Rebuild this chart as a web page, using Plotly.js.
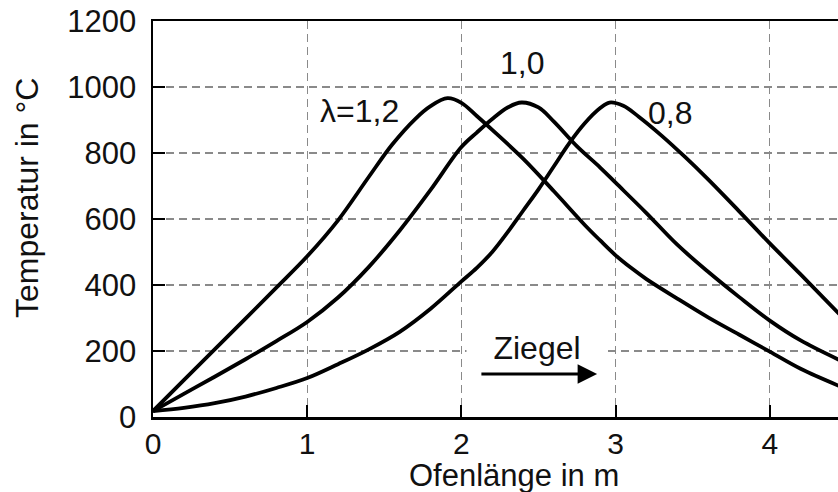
<!DOCTYPE html>
<html>
<head>
<meta charset="utf-8">
<script src="https://cdn.plot.ly/plotly-3.0.1.min.js"></script>
<style>html,body{margin:0;padding:0;background:#fff;}#chart{width:838px;height:492px;}</style>
</head>
<body>
<div id="chart"></div>
<script>
// Ofenlänge in m (x) and Temperatur in °C (y) for each air ratio λ
const x12 = [0, 0.2, 0.4, 0.6, 0.8, 1.0, 1.2, 1.4, 1.55, 1.7, 1.8, 1.91, 2.0, 2.1, 2.2, 2.4, 2.6, 2.8, 2.9, 3.0, 3.1, 3.2, 3.4, 3.6, 3.8, 4.0, 4.2, 4.45];
const y12 = [18, 112, 205, 298, 392, 487, 596, 728, 825, 903, 942, 966, 952, 912, 870, 783, 684, 582, 535, 490, 452, 418, 359, 302, 250, 198, 146, 94];

const x10 = [0, 0.2, 0.4, 0.6, 0.8, 1.0, 1.2, 1.4, 1.6, 1.8, 2.0, 2.1, 2.2, 2.3, 2.39, 2.5, 2.6, 2.75, 2.9, 3.0, 3.2, 3.4, 3.6, 3.8, 4.0, 4.2, 4.45];
const y10 = [18, 70, 122, 175, 230, 288, 362, 455, 565, 688, 818, 862, 903, 938, 953, 938, 895, 820, 756, 710, 618, 522, 440, 364, 292, 232, 173];

const x08 = [0, 0.2, 0.4, 0.6, 0.8, 1.0, 1.2, 1.4, 1.6, 1.8, 2.0, 2.1, 2.2, 2.3, 2.4, 2.5, 2.6, 2.7, 2.8, 2.9, 2.96, 3.05, 3.15, 3.3, 3.45, 3.6, 3.8, 4.0, 4.2, 4.45];
const y08 = [18, 28, 42, 62, 88, 118, 160, 205, 258, 328, 411, 452, 500, 560, 625, 690, 760, 830, 890, 936, 953, 943, 910, 852, 788, 720, 624, 526, 432, 312];

const xTicks = [0, 1, 2, 3, 4];
const yTicks = [0, 200, 400, 600, 800, 1000, 1200];
const curveLabels = ["λ=1,2", "1,0", "0,8"];
const labelX = [1.342, 2.393, 3.353];
const labelY = [928, 1074, 922];
const xTitle = "Ofenlänge in m";
const yTitle = "Temperatur in °C";
const arrowText = "Ziegel";

const FONT = "Liberation Sans, Arial, Helvetica, sans-serif";
const lineStyle = {color: "#000", width: 3.8, shape: "spline", smoothing: 1};

const traces = [
  {x: x12, y: y12, name: curveLabels[0], mode: "lines", line: lineStyle, hoverinfo: "x+y"},
  {x: x10, y: y10, name: curveLabels[1], mode: "lines", line: lineStyle, hoverinfo: "x+y"},
  {x: x08, y: y08, name: curveLabels[2], mode: "lines", line: lineStyle, hoverinfo: "x+y"}
];

const W = 838, H = 492, M = {l: 153, r: 0, t: 21, b: 75};
const pw = W - M.l - M.r, ph = H - M.t - M.b;

const annotations = curveLabels.map((t, i) => ({
  x: labelX[i], y: labelY[i], xref: "x", yref: "y", text: t, showarrow: false,
  xanchor: "center", yanchor: "middle", font: {family: FONT, size: 32, color: "#111"}
}));

// "Ziegel" label with white box (interrupts the 200 grid line)
annotations.push({
  x: 2.49, y: 210, xref: "x", yref: "y", text: arrowText, showarrow: false,
  xanchor: "center", yanchor: "middle", bgcolor: "#fff", width: 138, height: 36,
  font: {family: FONT, size: 32, color: "#111"}
});
// direction arrow
annotations.push({
  x: 2.88, y: 130, ax: 2.12, ay: 130, xref: "x", yref: "y", axref: "x", ayref: "y",
  text: "", showarrow: true, arrowhead: 2, arrowsize: 1.3, arrowwidth: 3, arrowcolor: "#000"
});
// axis titles
annotations.push({
  x: (514 - M.l) / pw, y: (H - M.b - 475) / ph, xref: "paper", yref: "paper",
  text: xTitle, showarrow: false, xanchor: "center", yanchor: "middle",
  font: {family: FONT, size: 31, color: "#111"}
});
annotations.push({
  x: (27 - M.l) / pw, y: (H - M.b - 198) / ph, xref: "paper", yref: "paper",
  text: yTitle, showarrow: false, textangle: -90, xanchor: "center", yanchor: "middle",
  font: {family: FONT, size: 32, color: "#111"}
});

const axisCommon = {
  showline: true, linecolor: "#000", linewidth: 2.5,
  ticks: "inside", ticklen: 12, tickwidth: 2, tickcolor: "#000",
  showgrid: true, gridcolor: "#8a8a8a", gridwidth: 1.3, griddash: "8px,5px",
  zeroline: false
};

const layout = {
  width: W, height: H, margin: M,
  paper_bgcolor: "#fff", plot_bgcolor: "#fff", showlegend: false,
  font: {family: FONT, color: "#111"},
  xaxis: Object.assign({}, axisCommon, {
    range: [0, (W - M.l) / 154.2], tickmode: "array", tickvals: xTicks,
    ticktext: xTicks.map(String), mirror: true, ticklabelstandoff: -2,
    tickfont: {family: FONT, size: 30, color: "#111"}
  }),
  yaxis: Object.assign({}, axisCommon, {
    range: [0, 1200], tickmode: "array", tickvals: yTicks,
    ticktext: yTicks.map(String), mirror: false, ticklabelstandoff: 8,
    tickfont: {family: FONT, size: 31, color: "#111"}
  }),
  annotations: annotations
};

Plotly.newPlot("chart", traces, layout, {staticPlot: true, displayModeBar: false});
</script>
</body>
</html>
